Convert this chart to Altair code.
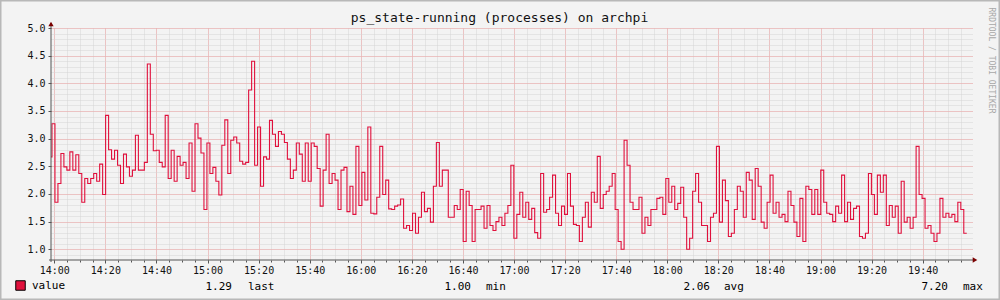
import altair as alt
import pandas as pd
import numpy as np

title_text = "ps_state-running (processes) on archpi"
side_text = "RRDTOOL / TOBI OETIKER"
series_name = "value"
start_time = "2024-01-01 13:57:56"
step_seconds = 70

seg1 = [2.67, 3.27, 1.85, 2.19, 2.73, 2.49, 2.43, 2.76, 2.43, 2.71, 2.37, 1.85, 2.28, 2.19, 2.28, 2.37,
        2.23, 2.54, 1.99, 3.42, 2.80, 2.63, 2.79, 2.52, 2.19, 2.72, 2.49, 2.32, 2.43, 3.06, 2.43, 2.43,
        2.57, 4.35, 3.08, 2.78, 2.79, 2.57, 2.49]
seg2 = [3.42, 2.28, 2.79, 2.23, 2.68, 2.52, 2.57, 2.28, 2.92, 2.05, 3.27, 3.01, 2.74, 1.72, 2.92, 2.37,
        2.48, 2.23, 1.98, 2.88, 3.34, 2.37, 2.97, 3.03, 2.92, 2.59, 2.54, 2.57, 3.88, 4.40, 2.52, 3.21,
        2.14, 2.67, 2.63, 3.33, 3.08, 2.86, 3.13]
seg3 = [3.08, 2.93, 2.63, 2.28, 2.43, 2.92, 2.72, 2.23, 2.92, 2.23, 2.92, 2.86, 2.46, 1.78, 2.43, 3.08,
        2.19, 2.37, 2.25, 1.72, 2.43, 2.48, 1.68, 2.14, 1.63, 2.86, 1.79, 2.39, 1.89, 3.21, 1.65, 1.64,
        1.94, 2.86, 1.99, 2.25, 1.73, 1.72, 1.78]
seg4 = [1.80, 1.91, 1.38, 1.43, 1.34, 1.65, 1.29, 1.58, 2.03, 1.68, 1.74, 1.49, 2.14, 2.93, 2.14, 2.43,
        2.43, 1.58, 1.58, 1.79, 1.72, 2.08, 1.14, 2.05, 1.79, 1.14, 1.72, 1.72, 1.78, 1.38, 1.79, 1.43,
        1.34, 1.50, 1.58, 1.43, 1.65, 1.79, 2.52]
seg5 = [1.20, 1.63, 2.03, 1.58, 1.85, 1.54, 1.74, 1.30, 1.20, 2.37, 1.67, 1.72, 1.94, 2.34, 1.65, 1.43,
        1.78, 1.63, 2.37, 1.78, 1.45, 1.43, 1.14, 1.58, 1.85, 1.40, 2.03, 1.85, 2.68, 1.74, 1.99, 2.05,
        2.14, 2.37, 1.72, 1.14, 1.00, 2.97, 2.52]
seg6 = [1.85, 1.72, 1.72, 1.94, 1.29, 1.58, 1.43, 1.72, 1.72, 1.92, 1.94, 1.63, 2.28, 1.85, 2.14, 1.72,
        1.83, 2.12, 1.58, 1.00, 1.20, 2.05, 2.37, 1.85, 1.43, 1.43, 1.14, 1.58, 1.65, 2.86, 1.49, 2.25,
        1.88, 1.23, 1.29, 1.72, 2.14, 2.05]
seg7 = [1.58, 2.39, 2.25, 1.54, 2.46, 2.14, 1.49, 1.38, 1.85, 2.34, 1.65, 1.85, 1.58, 1.63, 1.50, 2.05,
        1.79, 1.49, 1.23, 1.92, 1.14, 2.14, 2.08, 1.63, 2.08, 1.63, 2.43, 1.85, 1.65, 1.63, 1.50, 1.78,
        1.65, 2.34, 1.50, 1.85, 1.54, 1.74, 1.78]
seg8 = [1.23, 1.20, 1.29, 2.37, 1.99, 1.63, 2.34, 2.03, 2.34, 1.43, 1.79, 1.58, 1.78, 1.29, 2.23, 1.49,
        1.58, 1.38, 1.58, 2.86, 1.99, 1.92, 1.38, 1.43, 1.29, 1.14, 1.29, 1.92, 1.58, 1.65, 1.58, 1.63,
        1.50, 1.85, 1.72, 1.29]

stat_names = ["last", "min", "avg", "max"]
stat_values = [1.29, 1.00, 2.06, 7.20]

y_major = [1.0, 1.5, 2.0, 2.5, 3.0, 3.5, 4.0, 4.5, 5.0]
y_minor = [round(0.9 + 0.1 * i, 1) for i in range(42)]


def dt(h, m, s=0):
    return alt.DateTime(year=2024, month=1, date=1, hours=h, minutes=m, seconds=s)


x_major = [dt(14 + k // 3, (k % 3) * 20) for k in range(18)]       # 14:00 .. 19:40
x_minor = [dt(14 + k // 12, (k % 12) * 5) for k in range(72)]      # 14:00 .. 19:55

# ---- layout / style ----
MONO = "DejaVu Sans Mono"
LINE_COLOR = "#e0103c"
MAJOR_GRID = "#f3a3a3"
MINOR_GRID = "#d4d4d4"
AXIS_COLOR = "#555555"
ARROW_COLOR = "#7a0000"
W, H = 921, 232
PAD_L, PAD_T = 51, 28

values = seg1 + seg2 + seg3 + seg4 + seg5 + seg6 + seg7 + seg8
times = pd.Timestamp(start_time) + pd.to_timedelta(np.arange(len(values) + 1) * step_seconds, unit="s")
df = pd.DataFrame({"time": times, "value": values + [values[-1]]})

x_scale = alt.Scale(domain=[dt(13, 58, 43), dt(19, 59, 19)], nice=False)
y_scale = alt.Scale(domain=[0.806, 5.0], nice=False, zero=False)

base = alt.Chart(df)

minor = base.mark_line(opacity=0).encode(
    x=alt.X("time:T", scale=x_scale,
            axis=alt.Axis(orient="bottom", values=x_minor,
                          grid=True, gridColor=MINOR_GRID, gridDash=[1, 1], gridWidth=1,
                          labels=False, ticks=True, tickSize=2, tickColor=AXIS_COLOR,
                          domain=False, title="")),
    y=alt.Y("value:Q", scale=y_scale,
            axis=alt.Axis(orient="right", values=y_minor, grid=True, gridColor=MINOR_GRID,
                          gridDash=[1, 1], gridWidth=1, labels=False, ticks=False, domain=False,
                          title=side_text, titleAngle=90, titleFont=MONO, titleFontSize=8,
                          titleFontWeight="normal", titleColor="#a8a8a8", titleX=18, titleY=32,
                          titleAlign="center", titleBaseline="middle")),
)

line = base.mark_line(interpolate="step-after", color=LINE_COLOR, strokeWidth=1.1, clip=True).encode(
    x=alt.X("time:T", scale=x_scale,
            axis=alt.Axis(orient="bottom", values=x_major,
                          format="%H:%M", grid=True, gridColor=MAJOR_GRID, gridDash=[1, 1], gridWidth=1,
                          labelFont=MONO, labelFontSize=10, labelColor="#111111", labelPadding=2,
                          tickColor=AXIS_COLOR, tickSize=3, domain=False, title="")),
    y=alt.Y("value:Q", scale=y_scale,
            axis=alt.Axis(orient="left", values=y_major, format=".1f", grid=True, gridColor=MAJOR_GRID,
                          gridDash=[1, 1], gridWidth=1, labelFont=MONO, labelFontSize=10,
                          labelColor="#111111", labelPadding=3, tickColor=AXIS_COLOR, tickSize=3,
                          domain=False, title="")),
)

legend_df = pd.DataFrame({"series": [series_name]})
legend_layer = alt.Chart(legend_df).mark_square(opacity=0).encode(
    fill=alt.Fill("series:N", scale=alt.Scale(domain=[series_name], range=[LINE_COLOR]),
                  legend=alt.Legend(orient="none", legendX=-36, legendY=252, title=None,
                                    symbolType="square", symbolSize=90, symbolStrokeColor="#000000",
                                    symbolStrokeWidth=1, symbolOpacity=1, labelFont=MONO,
                                    labelFontSize=11, labelColor="#000000", labelOffset=6, padding=0))
)

deco = alt.Chart(legend_df)
frame = deco.mark_rect(fill="transparent", stroke="#b8b8b8", strokeWidth=3).encode(
    x=alt.value(-PAD_L), x2=alt.value(1000 - PAD_L), y=alt.value(-PAD_T), y2=alt.value(300 - PAD_T)
)
y_axis_line = deco.mark_rule(color=AXIS_COLOR, strokeWidth=1).encode(
    x=alt.value(0), y=alt.value(-5), y2=alt.value(H + 2)
)
x_axis_line = deco.mark_rule(color=AXIS_COLOR, strokeWidth=1).encode(
    x=alt.value(-2), x2=alt.value(W + 3), y=alt.value(H)
)
arrow_up = deco.mark_point(shape="triangle-up", filled=True, color=ARROW_COLOR, size=28, opacity=1).encode(
    x=alt.value(0), y=alt.value(-4)
)
arrow_right = deco.mark_point(shape="triangle-right", filled=True, color=ARROW_COLOR, size=28, opacity=1).encode(
    x=alt.value(W + 3), y=alt.value(H)
)

num_right = [232, 471, 710, 948]
name_left = [248, 486, 724, 963]
text_layers = []
for name, val, xr, xl in zip(stat_names, stat_values, num_right, name_left):
    sdf = pd.DataFrame({"name": [name], "num": [f"{val:.2f}"]})
    c = alt.Chart(sdf)
    text_layers.append(
        c.mark_text(font=MONO, fontSize=11, color="#000000", align="right", baseline="alphabetic")
        .encode(text="num:N", x=alt.value(xr - PAD_L), y=alt.value(290 - PAD_T))
    )
    text_layers.append(
        c.mark_text(font=MONO, fontSize=11, color="#000000", align="left", baseline="alphabetic")
        .encode(text="name:N", x=alt.value(xl - PAD_L), y=alt.value(290 - PAD_T))
    )

chart = alt.layer(frame, minor, line, y_axis_line, x_axis_line, arrow_up, arrow_right,
                  legend_layer, *text_layers).resolve_axis(
    x="independent", y="independent"
).properties(
    width=W, height=H,
    padding={"left": PAD_L, "top": PAD_T, "right": 1000 - PAD_L - W, "bottom": 300 - PAD_T - H},
    autosize=alt.AutoSizeParams(type="none"),
    title=alt.Title(title_text, font=MONO, fontSize=13, fontWeight="normal", color="#111111",
                    anchor="middle", dx=-12, dy=40, offset=4, baseline="alphabetic"),
).configure(background="#f3f3f3").configure_view(fill="#ffffff", stroke="transparent")

chart.save("out.html", embed_options={"renderer": "svg", "actions": False})
